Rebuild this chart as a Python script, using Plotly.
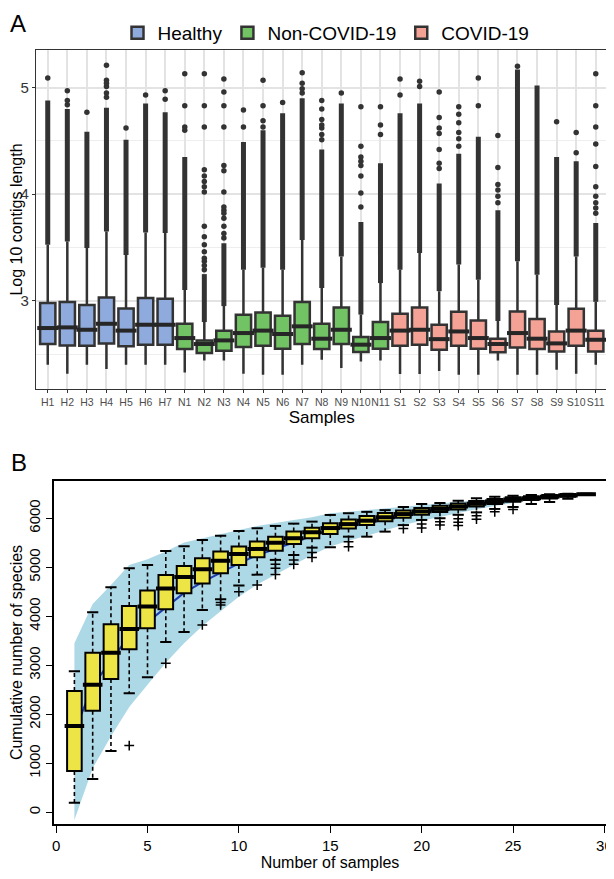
import plotly.graph_objects as go

FONT = "Arial, 'Liberation Sans', Helvetica, sans-serif"

# ---------------- Panel A data ----------------
samples = ["H1", "H2", "H3", "H4", "H5", "H6", "H7",
           "N1", "N2", "N3", "N4", "N5", "N6", "N7", "N8", "N9", "N10", "N11",
           "S1", "S2", "S3", "S4", "S5", "S6", "S7", "S8", "S9", "S10", "S11"]
group_names = ["Healthy", "Non-COVID-19", "COVID-19"]
group_of = ["Healthy"] * 7 + ["Non-COVID-19"] * 11 + ["COVID-19"] * 11
group_colors = {"Healthy": "#8FAADC", "Non-COVID-19": "#72C363", "COVID-19": "#F4A196"}

a_q1 = [2.594, 2.580, 2.578, 2.600, 2.572, 2.588, 2.588,
        2.547, 2.510, 2.531, 2.566, 2.578, 2.550, 2.594, 2.547, 2.594, 2.519, 2.550,
        2.578, 2.588, 2.541, 2.578, 2.550, 2.516, 2.562, 2.547, 2.525, 2.578, 2.525]
a_med = [2.744, 2.750, 2.728, 2.784, 2.720, 2.775, 2.775,
         2.650, 2.594, 2.628, 2.697, 2.720, 2.688, 2.760, 2.644, 2.728, 2.588, 2.650,
         2.720, 2.728, 2.640, 2.712, 2.650, 2.594, 2.697, 2.644, 2.600, 2.720, 2.634]
a_q3 = [2.978, 2.988, 2.960, 3.031, 2.928, 3.025, 3.019,
        2.784, 2.628, 2.719, 2.869, 2.890, 2.860, 2.988, 2.784, 2.937, 2.660, 2.800,
        2.878, 2.937, 2.775, 2.897, 2.815, 2.644, 2.900, 2.828, 2.712, 2.925, 2.719]
a_whisk_lo = [2.400, 2.316, 2.400, 2.360, 2.400, 2.400, 2.400,
              2.328, 2.440, 2.440, 2.316, 2.306, 2.306, 2.400, 2.447, 2.370, 2.431, 2.440,
              2.313, 2.313, 2.340, 2.306, 2.306, 2.440, 2.306, 2.306, 2.353, 2.316, 2.400]
a_whisk_hi = [3.525, 3.556, 3.494, 3.650, 3.430, 3.640, 3.635,
              3.100, 2.800, 2.950, 3.290, 3.310, 3.290, 3.570, 3.120, 3.415, 2.870, 3.166,
              3.290, 3.447, 3.090, 3.340, 3.197, 2.810, 3.370, 3.244, 2.960, 3.415, 2.990]
# upper end of the densely packed outlier column
a_dense_hi = [4.88, 4.80, 4.587, 4.81, 4.51, 4.85, 4.77,
              4.35, 3.25, 3.54, 4.49, 4.60, 4.76, 4.90, 4.42, 4.85, 3.74, 4.29,
              4.76, 4.85, 4.10, 4.38, 4.54, 3.85, 5.17, 5.02, 4.35, 4.31, 3.73]
# isolated outliers above the dense column
a_sparse = [
    [5.09], [4.84, 4.88, 4.97], [4.77], [4.91, 4.95, 5.01, 5.04, 5.07, 5.21], [4.62], [4.93], [4.89, 4.97],
    [4.60, 4.63, 4.83, 5.13],
    [3.29, 3.33, 3.37, 3.40, 3.46, 3.525, 3.60, 3.70, 4.02, 4.07, 4.12, 4.17, 4.23, 4.63, 4.83, 5.13],
    [3.59, 3.63, 3.70, 3.775, 3.82, 3.85, 3.88, 4.02, 4.22, 4.27, 4.63, 4.83, 4.96, 5.08],
    [4.63, 4.79], [4.63, 4.69, 4.83, 5.07], [4.86], [4.95, 4.99, 5.04, 5.14],
    [4.51, 4.56, 4.62, 4.65, 4.70, 4.80, 4.88], [4.95],
    [3.88, 4.01, 4.17, 4.27, 4.31, 4.35, 4.45, 4.82], [4.56, 4.65, 4.82],
    [4.93, 5.08], [5.01, 5.06], [4.24, 4.29, 4.42, 4.57, 4.62, 4.72, 4.96],
    [4.45, 4.52, 4.58, 4.67, 4.75, 4.82], [4.83, 5.09],
    [3.92, 3.98, 4.04, 4.09, 4.25, 4.55], [5.20], [], [4.68], [4.39, 4.58],
    [3.82, 3.87, 3.92, 3.98, 4.07, 4.26, 4.47, 4.63, 4.83, 5.13],
]

# ---------------- Panel B data ----------------
n_samples = list(range(1, 30))
b_q1 = [843, 2073, 2720, 3327, 3755, 4142, 4469, 4670, 4877, 5047, 5204, 5339, 5476, 5592,
        5680, 5790, 5860, 5940, 6010, 6070, 6125, 6180, 6240, 6290, 6335, 6370, 6405, 6440, 6480]
b_med = [1762, 2604, 3257, 3741, 4197, 4564, 4800, 4960, 5135, 5271, 5373, 5500, 5592, 5714,
         5800, 5880, 5950, 6020, 6085, 6140, 6190, 6240, 6295, 6340, 6385, 6410, 6440, 6465, 6490]
b_q3 = [2476, 3257, 3837, 4210, 4523, 4843, 5027, 5183, 5319, 5421, 5523, 5624, 5727, 5808,
        5900, 5975, 6045, 6105, 6160, 6210, 6255, 6300, 6350, 6395, 6430, 6450, 6475, 6495, 6500]
b_cap_hi = [2878, 4082, 4592, 4979, 5047, 5333, 5429, 5557, 5645, 5741, 5796, 5843, 5890, 5931,
            6067, 6102, 6130, 6165, 6230, 6290, 6310, 6355, 6408, 6441, 6460, 6475, 6490, 6500, 6500]
b_cap_lo = [196, 680, 1251, 2429, 2755, 3476, 3680, 4129, 4347, 4625, 4849, 5150, 5250, 5400,
            5408, 5624, 5624, 5727, 5860, 5965, 6000, 6070, 6120, 6190, 6230, 6290, 6330, 6400, 6480]
b_outliers = [[], [], [], [1360], [], [3041], [], [3822], [4280, 4230], [4502], [4638],
              [5060, 4980, 4850], [5150, 5060], [5300, 5200], [], [5520, 5420], [], [],
              [5790], [5880, 5800], [5930, 5860], [5990, 5920, 5850], [6050, 5980], [6130],
              [6180], [], [], [], []]
b_ci_upper = [3449, 4250, 4639, 5047, 5163, 5319, 5503, 5592, 5680, 5761, 5843, 5910, 5965, 6020,
              6102, 6135, 6169, 6200, 6235, 6271, 6305, 6340, 6373, 6400, 6435, 6455, 6470, 6482, 6490]
b_ci_lower = [-157, 900, 1550, 2150, 2600, 3050, 3450, 3800, 4100, 4400, 4650, 4850, 5050, 5250,
              5421, 5543, 5645, 5761, 5863, 5951, 6033, 6102, 6184, 6251, 6318, 6373, 6429, 6470, 6490]
b_mean = [1646, 2575, 3095, 3600, 3880, 4185, 4476, 4696, 4890, 5080, 5246, 5380, 5508, 5635,
          5762, 5839, 5907, 5980, 6049, 6111, 6169, 6221, 6278, 6325, 6376, 6414, 6450, 6476, 6490]

fig = go.Figure()

# ---------------- Panel A traces ----------------
pos = list(range(len(samples)))
for g in group_names:
    idx = [i for i in pos if group_of[i] == g]
    fig.add_trace(go.Box(
        x=idx,
        q1=[a_q1[i] for i in idx], median=[a_med[i] for i in idx], q3=[a_q3[i] for i in idx],
        lowerfence=[a_whisk_lo[i] for i in idx], upperfence=[a_whisk_hi[i] for i in idx],
        name=g, fillcolor=group_colors[g], line=dict(color="#333333", width=2.5),
        width=0.78, whiskerwidth=0, boxpoints=False, xaxis="x", yaxis="y",
    ))
dx, dy = [], []
for i in pos:
    dx += [i, i, None]
    dy += [a_whisk_hi[i], a_dense_hi[i], None]
fig.add_trace(go.Scatter(x=dx, y=dy, mode="lines", line=dict(color="#333333", width=5),
                         showlegend=False, hoverinfo="skip", xaxis="x", yaxis="y"))
sx, sy = [], []
for i in pos:
    for v in a_sparse[i]:
        sx.append(i)
        sy.append(v)
fig.add_trace(go.Scatter(x=sx, y=sy, mode="markers",
                         marker=dict(color="#333333", size=5.5),
                         showlegend=False, hoverinfo="skip", xaxis="x", yaxis="y"))
fig.add_trace(go.Scatter(x=pos, y=a_med, mode="markers",
                         marker=dict(symbol="line-ew", size=15, line=dict(color="#262626", width=4)),
                         showlegend=False, hoverinfo="skip", xaxis="x", yaxis="y"))

# ---------------- Panel B traces ----------------
fig.add_trace(go.Scatter(x=n_samples, y=b_ci_upper, mode="lines", line=dict(width=0, color="#ADD8E6"),
                         showlegend=False, hoverinfo="skip", xaxis="x2", yaxis="y2"))
fig.add_trace(go.Scatter(x=n_samples, y=b_ci_lower, mode="lines", line=dict(width=0, color="#ADD8E6"),
                         fill="tonexty", fillcolor="#ADD8E6",
                         showlegend=False, hoverinfo="skip", xaxis="x2", yaxis="y2"))
fig.add_trace(go.Scatter(x=n_samples, y=b_mean, mode="lines", line=dict(width=2, color="#1f3fb0"),
                         showlegend=False, hoverinfo="skip", xaxis="x2", yaxis="y2"))
fig.add_trace(go.Box(x=n_samples, q1=b_q1, median=b_med, q3=b_q3,
                     lowerfence=list(b_q1), upperfence=list(b_q3),
                     fillcolor="#ECE545", line=dict(color="black", width=2), width=0.8,
                     whiskerwidth=0, boxpoints=False, showlegend=False, xaxis="x3", yaxis="y3"))
wx, wy = [], []
for k, n in enumerate(n_samples):
    wx += [n, n, None, n, n, None]
    wy += [b_q3[k], b_cap_hi[k], None, b_q1[k], b_cap_lo[k], None]
fig.add_trace(go.Scatter(x=wx, y=wy, mode="lines", line=dict(color="black", width=1.6, dash="4px,3px"),
                         showlegend=False, hoverinfo="skip", xaxis="x3", yaxis="y3"))
fig.add_trace(go.Scatter(x=n_samples + n_samples, y=b_cap_hi + b_cap_lo, mode="markers",
                         marker=dict(symbol="line-ew", size=8, line=dict(color="black", width=2)),
                         showlegend=False, hoverinfo="skip", xaxis="x3", yaxis="y3"))
fig.add_trace(go.Scatter(x=n_samples, y=b_med, mode="markers",
                         marker=dict(symbol="line-ew", size=14, line=dict(color="black", width=4)),
                         showlegend=False, hoverinfo="skip", xaxis="x3", yaxis="y3"))
ox, oy = [], []
for k, n in enumerate(n_samples):
    for v in b_outliers[k]:
        ox.append(n)
        oy.append(v)
fig.add_trace(go.Scatter(x=ox, y=oy, mode="markers",
                         marker=dict(symbol="cross-thin", size=7, line=dict(color="black", width=1.5)),
                         showlegend=False, hoverinfo="skip", xaxis="x3", yaxis="y3"))

# page has an 8px body margin: the figure is shifted by OFF px, so size & positions compensate
OFF = 8
W, H = 614 - OFF, 879 - OFF


def fx(px):
    return (px - OFF) / W


def fy(py):
    return 1 - (py - OFF) / H


B_XDOM = [fx(54.3), fx(605.7)]
B_YDOM = [fy(824), fy(481)]
B_XR = [-0.1, 30.07]
B_YR = [-240, 6760]
fig.update_layout(
    width=W, height=H, margin=dict(l=0, r=0, t=0, b=0), template="none",
    paper_bgcolor="white", plot_bgcolor="white",
    font=dict(family=FONT, color="black"),
    showlegend=True,
    legend=dict(orientation="h", x=fx(326), xanchor="center", y=fy(33), yanchor="middle",
                traceorder="normal",
                font=dict(size=19, color="black"), bgcolor="rgba(0,0,0,0)", itemwidth=30),
    xaxis=dict(domain=[fx(36), fx(607.5)], anchor="y", range=[-0.6, 28.6],
               tickmode="array", tickvals=pos, ticktext=samples, tickangle=0,
               tickfont=dict(size=10.5, color="#4d4d4d"), ticks="outside", ticklen=3,
               tickcolor="#333333", showgrid=True, gridcolor="#e3e3e3", gridwidth=1.5,
               showline=True, mirror=True, linecolor="#333333", linewidth=1.3, zeroline=False,
               title=dict(text="Samples", font=dict(size=17), standoff=4), automargin=False),
    yaxis=dict(domain=[fy(389), fy(50)], anchor="x", range=[2.172, 5.353],
               tickvals=[3, 4, 5], tickfont=dict(size=15, color="#333333"),
               ticks="outside", ticklen=3, tickcolor="#333333",
               showgrid=True, gridcolor="#e3e3e3", gridwidth=1.5,
               minor=dict(dtick=0.5, tick0=2.5, showgrid=True, gridcolor="#eeeeee", gridwidth=1.2),
               showline=True, mirror=True, linecolor="#333333", linewidth=1.3, zeroline=False,
               title=dict(text="Log 10 contigs length", font=dict(size=16), standoff=5),
               automargin=False),
    xaxis2=dict(domain=B_XDOM, anchor="y2", range=B_XR,
                tickvals=[0, 5, 10, 15, 20, 25, 30], tickfont=dict(size=15),
                ticks="outside", ticklen=7, tickcolor="black", tickwidth=1.3,
                ticklabeloverflow="allow",
                showgrid=False, showline=True, mirror=True, linecolor="black", linewidth=1.6,
                zeroline=False, title=dict(text="Number of samples", font=dict(size=16), standoff=2),
                automargin=False),
    yaxis2=dict(domain=B_YDOM, anchor="x2", range=B_YR,
                tickvals=[0, 1000, 2000, 3000, 4000, 5000, 6000], tickangle=-90,
                tickfont=dict(size=15), ticks="outside", ticklen=7, tickcolor="black", tickwidth=1.3,
                showgrid=False, showline=True, mirror=True, linecolor="black", linewidth=1.6,
                zeroline=False, title=dict(text="Cumulative number of species", font=dict(size=16),
                                           standoff=4),
                automargin=False),
    xaxis3=dict(domain=B_XDOM, anchor="y3", overlaying="x2", range=B_XR, visible=False,
                showgrid=False, zeroline=False),
    yaxis3=dict(domain=B_YDOM, anchor="x3", overlaying="y2", range=B_YR, visible=False,
                showgrid=False, zeroline=False),
    annotations=[
        dict(text="A", x=fx(8), y=fy(8), xref="paper", yref="paper", showarrow=False,
             xanchor="left", yanchor="top", font=dict(size=24)),
        dict(text="B", x=fx(9), y=fy(463), xref="paper", yref="paper", showarrow=False,
             xanchor="left", yanchor="middle", font=dict(size=24)),
    ],
)

fig.write_html("out.html")
